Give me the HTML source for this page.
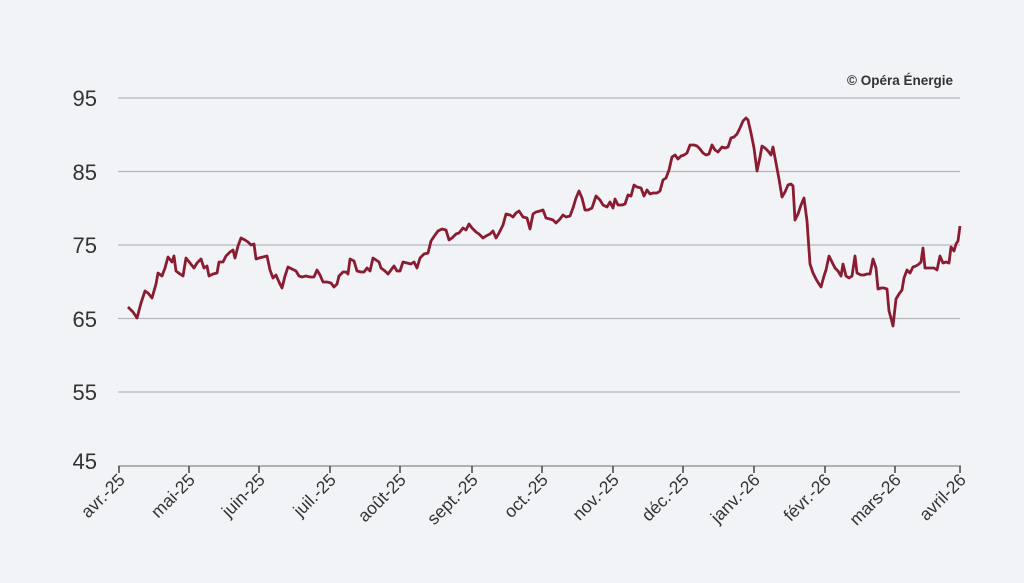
<!DOCTYPE html>
<html><head><meta charset="utf-8"><style>
body{margin:0;background:#f2f3f7;}
svg{display:block;font-family:"Liberation Sans",sans-serif;}
</style></head><body>
<svg width="1024" height="583" viewBox="0 0 1024 583">
<rect width="1024" height="583" fill="#f2f3f7"/>
<g stroke="#b4b6bc" stroke-width="1.3">
<line x1="118" x2="960" y1="98" y2="98"/>
<line x1="118" x2="960" y1="171.5" y2="171.5"/>
<line x1="118" x2="960" y1="245" y2="245"/>
<line x1="118" x2="960" y1="318.5" y2="318.5"/>
<line x1="118" x2="960" y1="392" y2="392"/>
</g>
<line x1="118" x2="961" y1="466" y2="466" stroke="#999" stroke-width="1.5"/>
<g stroke="#444" stroke-width="1.5">
<line x1="119" x2="119" y1="466" y2="473"/><line x1="189" x2="189" y1="466" y2="473"/><line x1="259" x2="259" y1="466" y2="473"/><line x1="330" x2="330" y1="466" y2="473"/><line x1="400" x2="400" y1="466" y2="473"/><line x1="472" x2="472" y1="466" y2="473"/><line x1="542" x2="542" y1="466" y2="473"/><line x1="613" x2="613" y1="466" y2="473"/><line x1="683" x2="683" y1="466" y2="473"/><line x1="754" x2="754" y1="466" y2="473"/><line x1="825" x2="825" y1="466" y2="473"/><line x1="895" x2="895" y1="466" y2="473"/><line x1="960" x2="960" y1="466" y2="473"/>
</g>
<g fill="#333" font-size="22" text-anchor="end">
<text x="97" y="106">95</text><text x="97" y="180">85</text><text x="97" y="253">75</text><text x="97" y="327">65</text><text x="97" y="400">55</text><text x="97" y="469">45</text>
</g>
<g fill="#333" font-size="17.5" text-anchor="end">
<text transform="translate(126,481) rotate(-45)">avr.-25</text>
<text transform="translate(196,481) rotate(-45)">mai-25</text>
<text transform="translate(266,481) rotate(-45)">juin-25</text>
<text transform="translate(337,481) rotate(-45)">juil.-25</text>
<text transform="translate(407,481) rotate(-45)">août-25</text>
<text transform="translate(479,481) rotate(-45)">sept.-25</text>
<text transform="translate(549,481) rotate(-45)">oct.-25</text>
<text transform="translate(620,481) rotate(-45)">nov.-25</text>
<text transform="translate(690,481) rotate(-45)">déc.-25</text>
<text transform="translate(761,481) rotate(-45)">janv.-26</text>
<text transform="translate(832,481) rotate(-45)">févr.-26</text>
<text transform="translate(902,481) rotate(-45)">mars-26</text>
<text transform="translate(967,481) rotate(-45)">avril-26</text>
</g>
<text x="953" y="85" text-anchor="end" font-size="13.5" font-weight="bold" fill="#333">© Opéra Énergie</text>
<polyline fill="none" stroke="#8a1c32" stroke-width="2.8" stroke-linejoin="round" points="128,307 133,312 137,318 141,303 145,291 148,293 152,298 156,284 158,273 162,276 165,268 168,257 172,262 174,256 176,271 180,274 183,276 186,258 190,263 194,268 197,263 201,259 204,268 207,266 209,276 213,274 217,273 219,262 223,262 226,256 230,252 233,250 235,258 238,246 241,238 245,240 248,242 251,245 254,244 256,259 259,258 263,257 267,256 270,270 273,278 276,275 279,282 282,288 285,276 288,267 292,269 296,271 299,276 302,277 306,276 310,277 314,277 317,270 320,275 323,282 327,282 331,283 334,287 337,284 339,276 343,272 346,272 348,274 350,259 354,261 357,271 361,272 364,272 367,268 370,271 373,258 376,260 379,262 381,268 385,271 388,274 391,270 394,266 397,271 400,271 403,262 407,263 411,264 414,262 417,268 420,258 424,254 428,253 431,241 435,235 438,231 442,229 446,230 449,240 452,238 456,234 459,233 463,228 466,230 469,224 472,228 476,232 479,234 483,238 486,236 490,234 493,231 496,238 499,233 503,225 506,214 510,215 513,217 516,213 519,211 523,217 527,218 530,229 533,214 536,212 540,211 543,210 546,218 550,219 553,220 556,223 560,219 563,215 566,217 570,216 573,208 576,198 579,191 582,198 585,210 588,210 592,208 596,196 600,200 603,205 607,207 610,202 613,208 615,199 618,205 622,205 625,204 628,195 631,196 634,185 637,187 641,188 644,196 647,190 650,194 653,193 657,193 660,191 663,180 666,178 669,170 672,157 675,155 678,159 681,156 684,155 687,153 690,145 694,145 697,146 700,149 703,153 706,155 709,154 712,145 715,150 718,152 722,147 725,148 728,147 731,138 734,137 737,134 740,128 743,121 746,118 748,120 751,133 754,148 757,171 760,157 762,146 765,148 768,151 771,155 773,147 776,163 779,179 782,197 785,192 788,185 791,184 793,186 795,220 798,214 801,205 804,198 807,221 810,264 813,273 816,279 819,284 821,287 824,276 826,270 829,256 832,262 835,268 838,271 841,276 843,264 846,276 849,278 852,276 855,256 857,273 861,275 864,275 867,274 870,274 873,259 876,268 878,289 881,288 884,288 887,289 889,311 891,318 893,326 896,299 899,294 902,290 904,278 907,270 910,273 913,267 916,266 919,264 921,262 923,248 925,268 928,268 931,268 934,268 937,270 940,256 943,263 946,262 949,263 951,247 954,251 956,244 958,241 960,226"/>
</svg>
</body></html>
